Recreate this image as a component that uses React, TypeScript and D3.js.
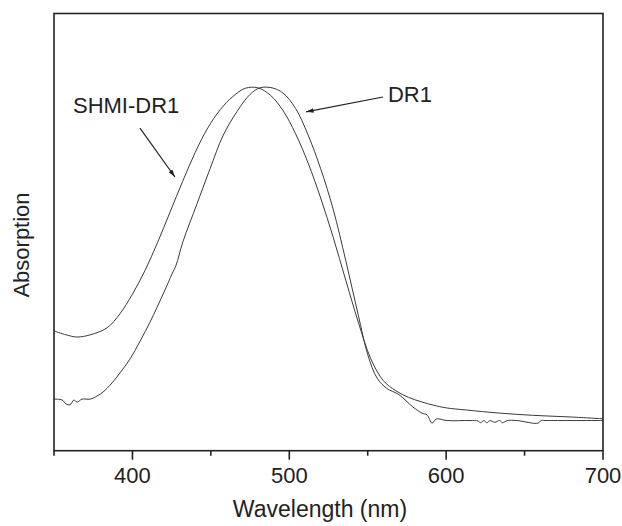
import React from 'react';
import * as d3 from 'd3';

// SHMI-DR1 absorption spectrum (wavelength nm, absorption a.u.)
const shmiWl = [350, 357.7, 364.7, 373, 383.8, 392, 400, 408, 416, 424, 432, 440, 448, 456, 464, 472, 480, 488, 496, 504, 512, 520, 528, 536, 544, 552, 560, 568, 576, 584, 592, 600, 613, 634, 655, 680, 700];
const shmiAbs = [0.274, 0.265, 0.26, 0.265, 0.281, 0.313, 0.358, 0.412, 0.476, 0.546, 0.616, 0.682, 0.738, 0.78, 0.81, 0.829, 0.83, 0.813, 0.778, 0.725, 0.658, 0.578, 0.488, 0.39, 0.294, 0.21, 0.16, 0.137, 0.122, 0.112, 0.104, 0.098, 0.093, 0.086, 0.081, 0.077, 0.073];

// DR1 absorption spectrum
const dr1Wl = [350, 355.1, 357.7, 360.2, 362.7, 364.7, 367.9, 373, 377.4, 381.2, 387, 392.1, 398.5, 404.8, 411.2, 415.7, 420.8, 425.2, 427.8, 432.2, 441.2, 449.5, 457.7, 466.7, 475, 481.3, 489, 496, 504, 512, 520, 528, 536, 544, 550, 556, 562, 570, 578.8, 584.6, 587.8, 591, 592.9, 594.2, 600.5, 615.2, 620.3, 622, 624, 626, 628, 631, 634, 636, 639, 645, 658.6, 660.5, 663, 700];
const dr1Abs = [0.118, 0.116, 0.107, 0.105, 0.116, 0.111, 0.118, 0.118, 0.125, 0.134, 0.155, 0.178, 0.21, 0.25, 0.294, 0.328, 0.368, 0.404, 0.424, 0.478, 0.565, 0.645, 0.72, 0.776, 0.815, 0.83, 0.83, 0.818, 0.783, 0.722, 0.645, 0.552, 0.435, 0.31, 0.22, 0.166, 0.143, 0.128, 0.1, 0.086, 0.082, 0.063, 0.07, 0.073, 0.069, 0.069, 0.068, 0.064, 0.069, 0.064, 0.069, 0.065, 0.069, 0.064, 0.069, 0.069, 0.063, 0.069, 0.069, 0.069];

const majorTicks = [400, 500, 600, 700];
const minorTicks = [350, 450, 550, 650];

// annotations: label position and arrow (from -> to), in data units
const labels = [
  { text: 'SHMI-DR1', wl: 362.1, abs: 0.772, from: [404.8, 0.738], to: [427.1, 0.626] },
  { text: 'DR1', wl: 562.9, abs: 0.798, from: [559.7, 0.809], to: [510.7, 0.775] },
];

const W = 622;
const H = 526;
const margin = { top: 13.5, right: 19, bottom: 75.3, left: 54 };
const font = "'Liberation Sans', Arial, Helvetica, sans-serif";

const App = () => {
  const x = d3.scaleLinear().domain([350, 700]).range([margin.left, W - margin.right]);
  const y = d3.scaleLinear().domain([0, 1]).range([H - margin.bottom, margin.top]);

  const line = d3
    .line<[number, number]>()
    .x(d => x(d[0]))
    .y(d => y(d[1]))
    .curve(d3.curveCatmullRom.alpha(0.5));

  const shmi = shmiWl.map((w, i) => [w, shmiAbs[i]] as [number, number]);
  const dr1 = dr1Wl.map((w, i) => [w, dr1Abs[i]] as [number, number]);

  const [x0, x1] = x.range();
  const [y0, y1] = y.range();

  return (
    <div style={{ position: 'absolute', left: 0, top: 0 }}>
      <svg width={W} height={H} style={{ display: 'block', background: '#fff' }}>
        <defs>
          <marker id="head" viewBox="0 0 10 6" refX="10" refY="3" markerWidth="9" markerHeight="4.5" orient="auto" markerUnits="userSpaceOnUse">
            <path d="M0,0 L10,3 L0,6 Z" fill="#222" />
          </marker>
        </defs>

        <path d={line(shmi) || ''} fill="none" stroke="#3a3a3a" strokeWidth={1} />
        <path d={line(dr1) || ''} fill="none" stroke="#3a3a3a" strokeWidth={1} />

        {/* frame */}
        <rect x={x0} y={y1} width={x1 - x0} height={y0 - y1} fill="none" stroke="#222" strokeWidth={1.6} />

        {majorTicks.map(t => (
          <g key={t}>
            <line x1={x(t)} x2={x(t)} y1={y0} y2={y0 + 9} stroke="#222" strokeWidth={1.6} />
            <text x={x(t)} y={y0 + 32.5} textAnchor="middle" fontFamily={font} fontSize={22} fill="#222">
              {t}
            </text>
          </g>
        ))}
        {minorTicks.map(t => (
          <line key={t} x1={x(t)} x2={x(t)} y1={y0} y2={y0 + 5} stroke="#222" strokeWidth={1.6} />
        ))}

        <text x={320} y={517} textAnchor="middle" fontFamily={font} fontSize={23} fill="#222">
          Wavelength (nm)
        </text>
        <text transform="translate(29,245) rotate(-90)" textAnchor="middle" fontFamily={font} fontSize={22} fill="#222">
          Absorption
        </text>

        {labels.map(l => (
          <g key={l.text}>
            <text x={x(l.wl)} y={y(l.abs)} fontFamily={font} fontSize={22} fill="#222">
              {l.text}
            </text>
            <line
              x1={x(l.from[0])}
              y1={y(l.from[1])}
              x2={x(l.to[0])}
              y2={y(l.to[1])}
              stroke="#222"
              strokeWidth={1.2}
              markerEnd="url(#head)"
            />
          </g>
        ))}
      </svg>
    </div>
  );
};

export default App;
